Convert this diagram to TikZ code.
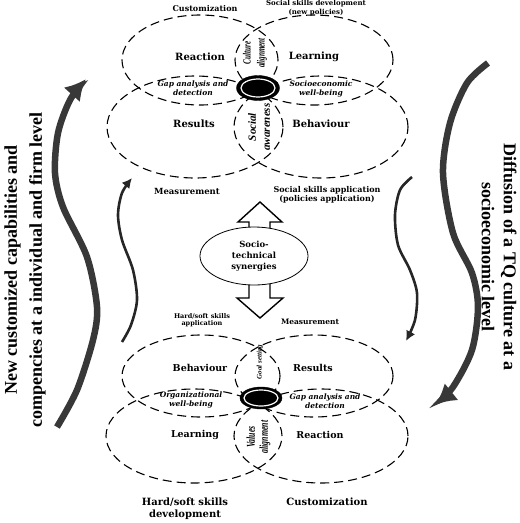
\documentclass[tikz,border=0pt]{standalone}
\usepackage{fontspec}
\setmainfont{DejaVu Serif}
\newfontfamily\sidefont{Liberation Serif}
\newfontfamily\narrowfont[FakeStretch=0.65]{Liberation Serif}
\usepackage{tikz}
\usetikzlibrary{shapes, arrows, arrows.meta, calc}

\begin{document}
\begin{tikzpicture}[x=1pt, y=-1pt,
    petal/.style={ellipse, draw, dash pattern=on 9pt off 5pt, line width=1.1pt, inner sep=0pt},
    hub/.style={ellipse, fill=black, draw=black, inner sep=0pt},
    lbl/.style={font=\bfseries\fontsize{10}{11}\selectfont, align=center, inner sep=0pt},
    sml/.style={font=\bfseries\fontsize{7}{8.5}\selectfont, align=center, inner sep=0pt},
    itl/.style={font=\bfseries\itshape\fontsize{7.5}{9}\selectfont, align=center, inner sep=0pt},
    upright/.style={rotate=90, align=center, inner sep=0pt},
    flow/.style={line width=6.5pt, draw=black!78, -{Latex[length=21pt, width=22pt]}},
    thinflow/.style={line width=2.6pt, draw=black!85, -{Latex[length=10pt, width=10pt]}},
    block/.style={draw, line width=1.4pt, line join=miter}]
  \useasboundingbox (0,0) rectangle (520,523);

  % top cluster
  \node[petal, minimum width=156pt, minimum height=90pt] (tReact) at (200,60) {};
  \node[petal, minimum width=158pt, minimum height=90pt] (tLearn) at (314,60) {};
  \node[petal, minimum width=176pt, minimum height=102pt] (tResult) at (195,127) {};
  \node[petal, minimum width=174pt, minimum height=102pt] (tBehav) at (321,127) {};
  \node[hub, minimum width=43pt, minimum height=25pt] (tHub) at (258,88) {};
  \draw[white, line width=1.2pt] (tHub) ellipse [x radius=17pt, y radius=9pt];

  \node[sml, font=\bfseries\fontsize{8}{9}\selectfont] (tCust) at (205,9) {Customization};
  \node[sml] (tDev) at (316,8) {Social skills development\\(new policies)};
  \node[lbl] (tReactL) at (200,57) {Reaction};
  \node[lbl] (tLearnL) at (314,57) {Learning};
  \node[lbl] (tResultL) at (194,124) {Results};
  \node[lbl] (tBehavL) at (321,124) {Behaviour};
  \node[itl] (tGap) at (193,88) {Gap analysis and\\detection};
  \node[itl] (tSocio) at (321,89) {Socioeconomic\\well-being};
  \node[upright, font=\narrowfont\bfseries\itshape\fontsize{11}{14}\selectfont] (tCulture) at (255,53) {Culture\\alignment};
  \node[upright, font=\sidefont\bfseries\itshape\fontsize{11}{14}\selectfont] (tAware) at (259,127) {Social\\awareness};
  \node[font=\bfseries\fontsize{8.5}{10}\selectfont, inner sep=0pt] (tMeas) at (187,191) {Measurement};
  \node[font=\bfseries\fontsize{8}{9.5}\selectfont, align=center, inner sep=0pt] (tApp) at (327,195) {Social skills application\\(policies application)};

  % synergies and block arrows
  \draw[block] (249,236) -- (249,222) -- (238,222) -- (260,202) -- (282,222) -- (270,222) -- (270,236);
  \draw[block] (249,276) -- (249,298) -- (237,298) -- (260,318) -- (283,298) -- (270,298) -- (270,276);
  \node[ellipse, draw, line width=0.8pt, fill=white, minimum width=108pt, minimum height=58pt,
        font=\bfseries\fontsize{8.5}{11}\selectfont, align=center, inner sep=0pt] (syn) at (254,256) {Socio-\\technical\\synergies};

  % bottom cluster
  \node[font=\bfseries\fontsize{6.5}{7.5}\selectfont, align=center, inner sep=0pt] (bApp) at (202,320) {Hard/soft skills\\application};
  \node[font=\bfseries\fontsize{7.5}{9}\selectfont, inner sep=0pt] (bMeas) at (310,322) {Measurement};
  \node[petal, minimum width=158pt, minimum height=82pt] (bBehav) at (201,376) {};
  \node[petal, minimum width=158pt, minimum height=82pt] (bResult) at (314,376) {};
  \node[petal, minimum width=176pt, minimum height=94pt] (bLearn) at (194,436) {};
  \node[petal, minimum width=174pt, minimum height=94pt] (bReact) at (321,436) {};
  \node[hub, minimum width=42pt, minimum height=22pt] (bHub) at (261,398) {};
  \draw[white, line width=1.2pt] (bHub) ellipse [x radius=17pt, y radius=8pt];

  \node[lbl, font=\bfseries\fontsize{9.5}{11}\selectfont] (bBehavL) at (200,368) {Behaviour};
  \node[lbl, font=\bfseries\fontsize{9.5}{11}\selectfont] (bResultL) at (313,368) {Results};
  \node[lbl, font=\bfseries\fontsize{9.5}{11}\selectfont] (bLearnL) at (195,435) {Learning};
  \node[lbl, font=\bfseries\fontsize{9.5}{11}\selectfont] (bReactL) at (320,435) {Reaction};
  \node[itl] (bOrg) at (191,400) {Organizational\\well-being};
  \node[itl] (bGap) at (325,401) {Gap analysis and\\detection};
  \node[upright, font=\sidefont\bfseries\itshape\fontsize{7}{8}\selectfont] (bGoal) at (260,362) {Goal setting};
  \node[upright, font=\narrowfont\bfseries\itshape\fontsize{12}{13}\selectfont] (bValues) at (258.5,437) {Values\\alignment};
  \node[font=\bfseries\fontsize{10}{12}\selectfont, align=center, inner sep=0pt] (bDev) at (185,509) {Hard/soft skills\\development};
  \node[font=\bfseries\fontsize{10}{12}\selectfont, inner sep=0pt] (bCust) at (327,502) {Customization};

  % side flows
  \draw[flow] plot[smooth] coordinates {(57,427) (77,390) (93,340) (97,307) (87,257) (63,207) (55,173) (58,133) (70,100) (86,79)};
  \draw[flow] plot[smooth] coordinates {(488,63) (467,83) (450,123) (443,173) (453,233) (472,273) (478,307) (472,350) (453,387) (435,405)};
  \draw[thinflow] plot[smooth] coordinates {(122,342) (131,325) (137,300) (133,270) (122,240) (118,215) (122,193) (132,178)};
  \draw[thinflow] plot[smooth] coordinates {(412,177) (400,190) (395,215) (398,245) (410,270) (417,293) (415,320) (406,341)};

  \node[upright, font=\sidefont\bfseries\fontsize{18}{25}\selectfont] (newCap) at (25,270) {New customized capabilities and\\compencies at a individual and firm level};
  \node[upright, rotate=180, font=\sidefont\bfseries\fontsize{18}{22}\selectfont] (tqDiff) at (499,257) {Diffusion of a TQ culture at a\\socioeconomic level};
\end{tikzpicture}
\end{document}
